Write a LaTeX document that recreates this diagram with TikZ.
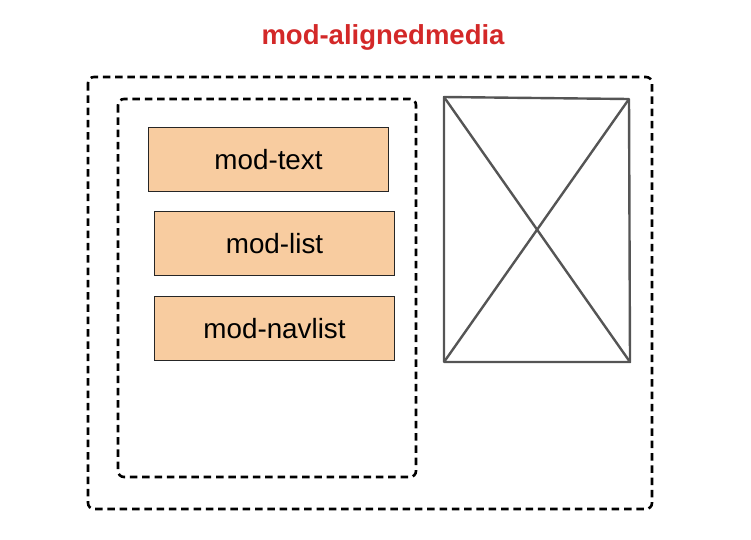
\documentclass[tikz,border=0pt]{standalone}
\usepackage{fontspec}
\setmainfont{Liberation Sans}
\begin{document}
\begin{tikzpicture}[x=1pt,y=-1pt,
  dashbox/.style={draw=black, line width=2.6pt, dash pattern=on 7.5pt off 4.8pt, rounded corners=6pt},
  modbox/.style={draw=black!85, line width=1.7pt, fill={rgb,255:red,248;green,204;blue,160}, rectangle, minimum width=240pt, minimum height=64pt, inner sep=0pt, font=\fontsize{27.8}{32}\selectfont},
  ph/.style={draw={rgb,255:red,85;green,85;blue,85}, line width=2.4pt},
  title/.style={text={rgb,255:red,211;green,40;blue,40}, font=\bfseries\fontsize{27.5}{32}\selectfont}
]
\useasboundingbox (0,0) rectangle (751,539);
\node[title] (title) at (383,37) {mod-alignedmedia};
\draw[dashbox] (88,77) rectangle (652,509);
\draw[dashbox] (118,99) rectangle (416,477);
\node[modbox] (text) at (268.5,159.5) {mod-text};
\node[modbox] (list) at (274.5,243.5) {mod-list};
\node[modbox] (navlist) at (274.5,328.5) {mod-navlist};
\coordinate (tl) at (444,97);
\coordinate (tr) at (629,99);
\coordinate (br) at (630,362);
\coordinate (bl) at (444,362);
\draw[ph, line join=round] (tl) -- (tr) -- (br) -- (bl) -- cycle;
\draw[ph] (tl) -- (br);
\draw[ph] (tr) -- (bl);
\end{tikzpicture}
\end{document}
